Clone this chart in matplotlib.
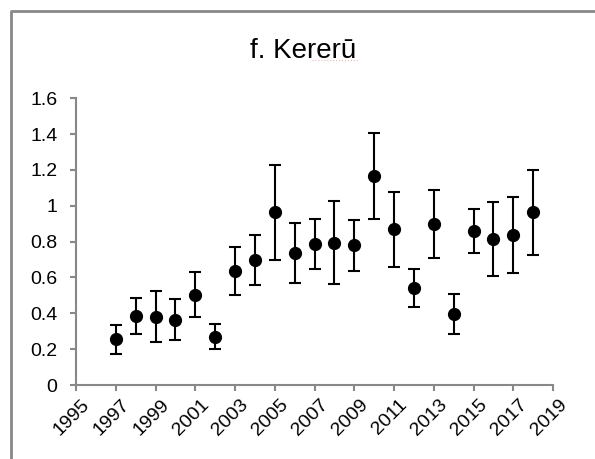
import matplotlib
matplotlib.use("Agg")
import matplotlib.pyplot as plt
from matplotlib.lines import Line2D
from matplotlib.transforms import ScaledTranslation

plt.rcParams['font.family'] = ['Liberation Sans', 'DejaVu Sans']

# data
years = [1997, 1998, 1999, 2000, 2001, 2002, 2003, 2004, 2005, 2006, 2007,
         2008, 2009, 2010, 2011, 2012, 2013, 2014, 2015, 2016, 2017, 2018]
index = [0.255, 0.386, 0.381, 0.365, 0.502, 0.270, 0.634, 0.696, 0.964, 0.735, 0.787,
         0.794, 0.779, 1.165, 0.869, 0.541, 0.898, 0.394, 0.861, 0.817, 0.839, 0.965]
lower = [0.173, 0.287, 0.238, 0.249, 0.379, 0.199, 0.500, 0.560, 0.698, 0.567, 0.646,
         0.562, 0.636, 0.928, 0.657, 0.435, 0.707, 0.283, 0.737, 0.608, 0.627, 0.727]
upper = [0.335, 0.487, 0.523, 0.478, 0.631, 0.339, 0.770, 0.835, 1.228, 0.904, 0.928,
         1.027, 0.922, 1.404, 1.077, 0.649, 1.088, 0.506, 0.984, 1.023, 1.051, 1.201]
xticks = list(range(1995, 2020, 2))
yticks = [0, 0.2, 0.4, 0.6, 0.8, 1, 1.2, 1.4, 1.6]
ylabels = ['0', '0.2', '0.4', '0.6', '0.8', '1', '1.2', '1.4', '1.6']

grey = '#888888'

fig = plt.figure(figsize=(5.95, 4.59), dpi=100)
ax = fig.add_axes([76/595, 1 - 385/459, (553 - 76)/595, (385 - 98.3)/459])

err = [[m - l for m, l in zip(index, lower)], [u - m for m, u in zip(index, upper)]]
ax.errorbar(years, index, yerr=err, fmt='o', color='black', ms=8.5,
            elinewidth=1.5, capsize=4.2, capthick=1.5, zorder=3)

ax.set_xlim(1995, 2019)
ax.set_ylim(0, 1.6)
ax.tick_params(axis='both', direction='out', length=4.3, width=1.5, color=grey,
               labelcolor='black')
ax.tick_params(axis='y', pad=9)
ax.tick_params(axis='x', pad=4)
ax.set_xticks(xticks)
ax.set_xticklabels([str(y) for y in xticks], rotation=45, ha='right', va='top',
                   rotation_mode='anchor', fontsize=14)
ax.set_yticks(yticks)
ax.set_yticklabels(ylabels, fontsize=14)

# nudge the slanted year labels a little to the right, like the original
shift = ScaledTranslation(5/100, 0, fig.dpi_scale_trans)
for lab in ax.get_xticklabels():
    lab.set_transform(lab.get_transform() + shift)

for s in ['top', 'right']:
    ax.spines[s].set_visible(False)
for s in ['left', 'bottom']:
    ax.spines[s].set_color(grey)
    ax.spines[s].set_linewidth(1.5)

# title
fig.text(303.5/595, 1 - 57.7/459, 'f. Kererū', ha='center', va='baseline', fontsize=20)
# faint spell-check underline
fig.add_artist(Line2D([312/595, 358/595], [1 - 59.5/459, 1 - 59.5/459],
                      color='#f2b8b8', lw=0.8, ls=':'))

# chart area frame (only left and top inside the picture)
fig.add_artist(Line2D([11/595, 11/595, 1.0], [0.0, 1 - 11/459, 1 - 11/459],
                      color=grey, lw=2))

fig.savefig('out.png', dpi=100)
